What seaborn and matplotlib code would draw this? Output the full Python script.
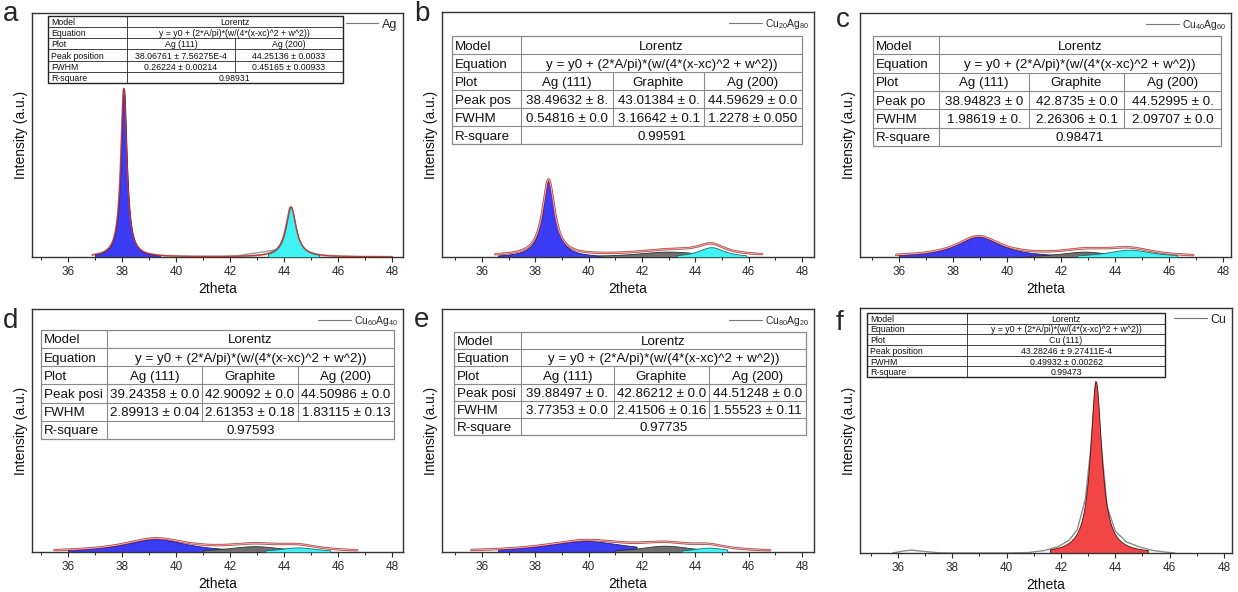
import numpy as np
import matplotlib
matplotlib.use("Agg")
import matplotlib.pyplot as plt
import seaborn as sns

PANEL_LETTERS = ["a", "b", "c", "d", "e", "f"]
SAMPLE_LABELS = ["Ag", r"Cu$_{20}$Ag$_{80}$", r"Cu$_{40}$Ag$_{60}$",
                 r"Cu$_{60}$Ag$_{40}$", r"Cu$_{80}$Ag$_{20}$", "Cu"]

# Lorentz components per panel: centre xc, FWHM w (from the tables), height (read)
PEAK_NAMES = [["Ag (111)", "Ag (200)"],
              ["Ag (111)", "Graphite", "Ag (200)"],
              ["Ag (111)", "Graphite", "Ag (200)"],
              ["Ag (111)", "Graphite", "Ag (200)"],
              ["Ag (111)", "Graphite", "Ag (200)"],
              ["Cu (111)"]]
PEAK_CENTERS = [[38.06761, 44.25136],
                [38.49632, 43.01384, 44.59629],
                [38.94823, 42.8735, 44.52995],
                [39.24358, 42.90092, 44.50986],
                [39.88497, 42.86212, 44.51248],
                [43.28246]]
PEAK_FWHM = [[0.26224, 0.45165],
             [0.54816, 3.16642, 1.2278],
             [1.98619, 2.26306, 2.09707],
             [2.89913, 2.61353, 1.83115],
             [3.77353, 2.41506, 1.55523],
             [0.49932]]
PEAK_HEIGHTS = [[0.69, 0.205],
                [0.31, 0.022, 0.040],
                [0.083, 0.022, 0.030],
                [0.053, 0.024, 0.019],
                [0.045, 0.026, 0.018],
                [0.70]]
BASELINES = [0.0, 0.004, 0.0, 0.0, 0.0, 0.0]
DATA_RANGES = [(36.9, 48.0), (36.5, 46.5), (35.9, 46.9), (35.5, 46.7), (35.6, 46.8), (40.8, 46.0)]
FILL_RANGES = [[(37.0, 39.4), (43.4, 45.3)],
               [(36.6, 40.9), (40.4, 45.4), (43.3, 45.9)],
               [(36.0, 41.8), (40.8, 44.6), (42.6, 46.3)],
               [(36.0, 41.9), (41.0, 44.6), (43.3, 45.7)],
               [(36.6, 41.8), (41.0, 44.4), (43.5, 45.2)],
               [(41.6, 45.2)]]
PEAK_KINDS = [["blue", "cyan"], ["blue", "gray", "cyan"], ["blue", "gray", "cyan"],
              ["blue", "gray", "cyan"], ["blue", "gray", "cyan"], ["red"]]

# raw-data deviations from the fit (read points)
A_SHOULDER_X = [41.9, 42.3, 42.8, 43.3, 43.7]
A_SHOULDER_Y = [0.0, 0.006, 0.014, 0.022, 0.030]
F_DATA_X = [35.8, 36.2, 36.5, 36.8, 37.2, 37.5, 38.0, 40.0, 40.8, 41.4, 41.9, 42.3, 42.6,
            42.9, 43.1, 43.28, 43.45, 43.7, 44.0, 44.4, 44.9, 45.4, 45.9, 46.2]
F_DATA_Y = [0.0, 0.008, 0.012, 0.008, 0.004, 0.001, 0.0, 0.0, 0.002, 0.010, 0.026, 0.052, 0.095,
            0.220, 0.430, 0.700, 0.480, 0.190, 0.090, 0.046, 0.024, 0.010, 0.003, 0.0]

TABLES = [
    [["Model", "Lorentz"],
     ["Equation", "y = y0 + (2*A/pi)*(w/(4*(x-xc)^2 + w^2))"],
     ["Plot", "Ag (111)", "Ag (200)"],
     ["Peak position", "38.06761 ± 7.56275E-4", "44.25136 ± 0.0033"],
     ["FWHM", "0.26224 ± 0.00214", "0.45165 ± 0.00933"],
     ["R-square", "0.98931"]],
    [["Model", "Lorentz"],
     ["Equation", "y = y0 + (2*A/pi)*(w/(4*(x-xc)^2 + w^2))"],
     ["Plot", "Ag (111)", "Graphite", "Ag (200)"],
     ["Peak pos", "38.49632 ± 8.", "43.01384 ± 0.", "44.59629 ± 0.0"],
     ["FWHM", "0.54816 ± 0.0", "3.16642 ± 0.1", "1.2278 ± 0.050"],
     ["R-square", "0.99591"]],
    [["Model", "Lorentz"],
     ["Equation", "y = y0 + (2*A/pi)*(w/(4*(x-xc)^2 + w^2))"],
     ["Plot", "Ag (111)", "Graphite", "Ag (200)"],
     ["Peak po", "38.94823 ± 0", "42.8735 ± 0.0", "44.52995 ± 0."],
     ["FWHM", "1.98619 ± 0.", "2.26306 ± 0.1", "2.09707 ± 0.0"],
     ["R-square", "0.98471"]],
    [["Model", "Lorentz"],
     ["Equation", "y = y0 + (2*A/pi)*(w/(4*(x-xc)^2 + w^2))"],
     ["Plot", "Ag (111)", "Graphite", "Ag (200)"],
     ["Peak posi", "39.24358 ± 0.0", "42.90092 ± 0.0", "44.50986 ± 0.0"],
     ["FWHM", "2.89913 ± 0.04", "2.61353 ± 0.18", "1.83115 ± 0.13"],
     ["R-square", "0.97593"]],
    [["Model", "Lorentz"],
     ["Equation", "y = y0 + (2*A/pi)*(w/(4*(x-xc)^2 + w^2))"],
     ["Plot", "Ag (111)", "Graphite", "Ag (200)"],
     ["Peak posi", "39.88497 ± 0.", "42.86212 ± 0.0", "44.51248 ± 0.0"],
     ["FWHM", "3.77353 ± 0.0", "2.41506 ± 0.16", "1.55523 ± 0.11"],
     ["R-square", "0.97735"]],
    [["Model", "Lorentz"],
     ["Equation", "y = y0 + (2*A/pi)*(w/(4*(x-xc)^2 + w^2))"],
     ["Plot", "Cu (111)"],
     ["Peak position", "43.28246 ± 9.27411E-4"],
     ["FWHM", "0.49932 ± 0.00262"],
     ["R-square", "0.99473"]],
]
XTICKS = [36, 38, 40, 42, 44, 46, 48]

# ---------------- style / layout ----------------
sns.set_theme(style="white")
plt.rcParams["font.family"] = ["Liberation Sans", "DejaVu Sans"]
plt.rcParams["mathtext.fontset"] = "custom"
plt.rcParams["mathtext.rm"] = "Liberation Sans"
plt.rcParams["mathtext.default"] = "regular"

W, H = 1238, 592
fig = plt.figure(figsize=(W / 100, H / 100), dpi=100)

# axes boxes in pixels (left, top, right, bottom)
AX_PX = [(32, 13, 403, 257), (442, 12, 814, 257), (860, 13, 1231, 257),
         (32, 309, 403, 552), (442, 309, 814, 552), (860, 308, 1232, 553)]
XLIMS = [(34.67, 48.4), (34.5, 48.45), (34.56, 48.3), (34.67, 48.4), (34.5, 48.45), (34.6, 48.3)]
LETTER_PX = [(3, 21), (414, 21), (836, 27), (3, 328), (414, 327), (836, 330)]
TABLE_BOX = [(0.043, 0.838, 0.988, 0.713), (0.027, 0.968, 0.902, 0.461),
             (0.035, 0.973, 0.906, 0.455), (0.024, 0.976, 0.914, 0.465),
             (0.032, 0.978, 0.905, 0.481), (0.019, 0.820, 0.980, 0.718)]
TABLE_COLS = [[0.256, 0.547], [0.212, 0.46, 0.704], [0.213, 0.455, 0.712],
              [0.202, 0.458, 0.717], [0.212, 0.462, 0.718], [0.288]]

FILL = {"blue": ("#3c3cf4", "#1c1c70"), "cyan": ("#40f2f2", "#1f6e6e"),
        "gray": ("#6f6f6f", "#2e2e2e"), "red": ("#f24545", "#4a1010")}


def lorentz(x, xc, w, h):
    return h / (1.0 + (2.0 * (x - xc) / w) ** 2)


def draw_table(ax, box, cols, rows, small):
    x0, x1, yt, yb = box
    n = len(rows)
    rh = (yt - yb) / n
    lc = "#222222" if small else "#8a8a8a"
    fs = 6.3 if small else 9.6
    lw_out = 1.0 if small else 0.9
    lw_in = 0.6 if small else 0.8
    kw = dict(transform=ax.transAxes, color=lc, clip_on=False, zorder=10)
    ax.add_patch(plt.Rectangle((x0, yb), x1 - x0, yt - yb, fill=True, fc="white",
                               ec=lc, lw=lw_out, transform=ax.transAxes, clip_on=False, zorder=9))
    ax.plot([cols[0], cols[0]], [yb, yt], lw=lw_in, **kw)
    for i, row in enumerate(rows):
        ytop = yt - i * rh
        ybot = ytop - rh
        ym = (ytop + ybot) / 2
        if i > 0:
            ax.plot([x0, x1], [ytop, ytop], lw=lw_in, **kw)
        ax.text(x0 + 0.008, ym, row[0], transform=ax.transAxes, fontsize=fs,
                ha="left", va="center_baseline", zorder=11, color="#111111")
        cells = row[1:]
        if len(cells) == 1:
            edges = [cols[0], x1]
        else:
            edges = cols + [x1]
            for c in cols[1:]:
                ax.plot([c, c], [ybot, ytop], lw=lw_in, **kw)
        for j, t in enumerate(cells):
            xm = (edges[j] + edges[j + 1]) / 2
            ax.text(xm, ym, t, transform=ax.transAxes, fontsize=fs, ha="center",
                    va="center_baseline", zorder=11, color="#111111")


for k in range(6):
    l, t, r, b = AX_PX[k]
    ax = fig.add_axes([l / W, 1 - b / H, (r - l) / W, (b - t) / H])
    lo, hi = DATA_RANGES[k]
    x = np.linspace(lo, hi, 2000)
    comps = [lorentz(x, c, w, h) for c, w, h in
             zip(PEAK_CENTERS[k], PEAK_FWHM[k], PEAK_HEIGHTS[k])]
    env = BASELINES[k] + np.sum(comps, axis=0)

    # raw data (grey)
    if k == 5:
        sns.lineplot(x=F_DATA_X, y=F_DATA_Y, ax=ax, color="#8c8c8c", lw=1.0,
                     label=SAMPLE_LABELS[k], zorder=1, sort=False)
    else:
        sns.lineplot(x=x, y=env, ax=ax, color="#a0a0a0", lw=1.9 if k else 1.4,
                     label=SAMPLE_LABELS[k], zorder=1, sort=False)
    if k == 0:
        ax.plot(A_SHOULDER_X, A_SHOULDER_Y, color="#9a9a9a", lw=1.0, zorder=1)

    # filled components
    order = sorted(range(len(comps)),
                   key=lambda i: {"blue": 0, "gray": 1, "cyan": 2, "red": 0}[PEAK_KINDS[k][i]])
    for z, i in enumerate(order):
        flo, fhi = FILL_RANGES[k][i]
        m = (x >= flo) & (x <= fhi)
        fc, ec = FILL[PEAK_KINDS[k][i]]
        ax.fill_between(x[m], 0, comps[i][m], facecolor=fc, edgecolor=ec, lw=0.6, zorder=2 + z)

    # cumulative fit (red)
    if k != 5:
        ax.plot(x, env, color="#d23030", lw=1.3 if k else 0.8, zorder=6)
        if k:
            ax.plot(x, env, color="#f6d2d2", lw=0.5, zorder=7)

    ax.set_xlim(*XLIMS[k])
    ax.set_ylim(0, 1)
    ax.set_xticks(XTICKS)
    ax.set_xticks(np.arange(35, 49, 1), minor=True)
    ax.set_yticks([])
    ax.tick_params(axis="x", which="major", direction="out", length=3.5, width=0.8,
                   labelsize=8.5, pad=3, colors="#2a2a2a", bottom=True)
    ax.tick_params(axis="x", which="minor", direction="out", length=2, width=0.7, bottom=True)
    for s in ax.spines.values():
        s.set_color("#333333")
        s.set_linewidth(1.0)
    ax.set_xlabel("2theta", fontsize=10, labelpad=3, color="#111111")
    ax.set_ylabel("Intensity (a.u.)", fontsize=10, labelpad=3, color="#111111")

    leg = ax.legend(loc="upper right", frameon=False, fontsize=9 if k in (0, 5) else 7.5,
                    handlelength=2.6 if k in (0, 5) else 3.2, handletextpad=0.3,
                    borderaxespad=0.15, borderpad=0.3)
    for h in leg.get_lines():
        h.set_linewidth(0.8)
        h.set_color("#777777")

    draw_table(ax, TABLE_BOX[k], TABLE_COLS[k], TABLES[k], small=(k in (0, 5)))

    lx, ly = LETTER_PX[k]
    fig.text(lx / W, 1 - ly / H, PANEL_LETTERS[k], fontsize=20, ha="left", va="baseline")

fig.savefig("out.png", dpi=100)
